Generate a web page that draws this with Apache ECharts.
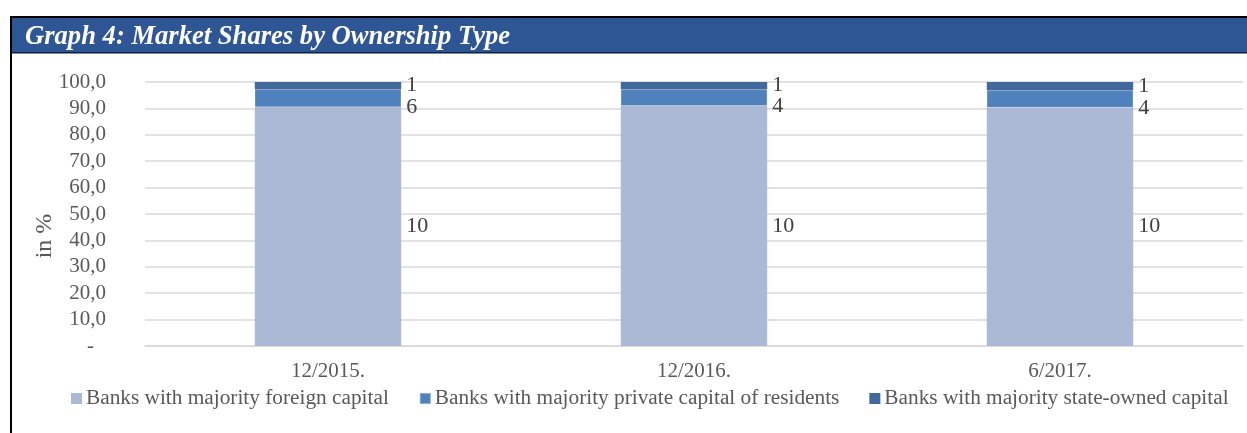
<!DOCTYPE html>
<html>
<head>
<meta charset="utf-8">
<script src="https://cdn.jsdelivr.net/npm/echarts@6/dist/echarts.min.js"></script>
<style>
html,body{margin:0;padding:0;background:#fff;}
#chart{width:1247px;height:433px;}
</style>
</head>
<body>
<div id="chart"></div>
<script>
const categories = ['12/2015.', '12/2016.', '6/2017.'];
const seriesNames = ['Banks with majority foreign capital', 'Banks with majority private capital of residents', 'Banks with majority state-owned capital'];
const foreignValues = [90.5, 91.0, 90.4];
const privateValues = [6.7, 6.2, 6.4];
const stateValues = [2.8, 2.8, 3.2];
const foreignLabels = ['10', '10', '10'];
const privateLabels = ['6', '4', '4'];
const stateLabels = ['1', '1', '1'];
const yTicks = {min: 0, max: 100, interval: 10};

const FONT = '"Liberation Serif", "Times New Roman", serif';
const chart = echarts.init(document.getElementById('chart'), null, {renderer: 'canvas'});

function mkLabel(arr, dy) {
  return {
    show: true,
    position: 'right',
    distance: 5,
    offset: [0, dy],
    fontFamily: FONT,
    fontSize: 22,
    color: '#404040',
    formatter: p => arr[p.dataIndex]
  };
}

chart.setOption({
  animation: false,
  backgroundColor: '#ffffff',
  title: {
    text: 'Graph 4: Market Shares by Ownership Type',
    left: 20,
    top: 19,
    textStyle: {fontFamily: FONT, fontStyle: 'italic', fontWeight: 'bold', fontSize: 26.6, color: '#ffffff'}
  },
  graphic: [
    {type: 'rect', shape: {x: 10, y: 16, width: 1237, height: 37}, style: {fill: '#2E5594'}, z: -1},
    {type: 'rect', shape: {x: 10, y: 16, width: 1237, height: 2}, style: {fill: '#000000'}, z: 0},
    {type: 'rect', shape: {x: 10, y: 52, width: 1237, height: 1.5}, style: {fill: '#0b1f45'}, z: 0},
    {type: 'rect', shape: {x: 10, y: 16, width: 2, height: 417}, style: {fill: '#000000'}, z: 0},
    {type: 'text', x: 45, y: 236, rotation: Math.PI / 2,
     style: {text: 'in %', fontFamily: FONT, fontSize: 24, fill: '#595959', align: 'center', verticalAlign: 'middle'}}
  ],
  legend: {
    left: 71,
    top: 388,
    padding: 0,
    icon: 'rect',
    itemWidth: 11,
    itemHeight: 11,
    itemGap: 30,
    textStyle: {fontFamily: FONT, fontSize: 21.3, color: '#595959', padding: [0, 0, 0, -1]},
    data: seriesNames
  },
  grid: {left: 145, right: 4, top: 82, bottom: 87},
  xAxis: {
    type: 'category',
    data: categories,
    axisLine: {show: true, lineStyle: {color: '#d9d9d9', width: 1.5}},
    axisTick: {show: false},
    axisLabel: {fontFamily: FONT, fontSize: 21, color: '#595959', margin: 15}
  },
  yAxis: {
    type: 'value',
    min: yTicks.min,
    max: yTicks.max,
    interval: yTicks.interval,
    axisLine: {show: false},
    axisTick: {show: false},
    splitLine: {lineStyle: {color: '#d9d9d9', width: 1.5}},
    axisLabel: {
      fontFamily: FONT, fontSize: 21, color: '#595959', margin: 39,
      formatter: v => v === 0 ? '{d|-}' : v.toFixed(1).replace('.', ','),
      rich: {d: {fontFamily: FONT, fontSize: 21, color: '#595959', padding: [0, 12, 0, 0]}}
    }
  },
  series: [
    {name: seriesNames[0], type: 'bar', stack: 's', barWidth: '40%', data: foreignValues,
     itemStyle: {color: '#abb9d6'}, label: mkLabel(foreignLabels, 0)},
    {name: seriesNames[1], type: 'bar', stack: 's', barWidth: '40%', data: privateValues,
     itemStyle: {color: '#4f81bd', borderColor: 'rgba(255,255,255,0.35)', borderWidth: 0.5}, label: mkLabel(privateLabels, 9)},
    {name: seriesNames[2], type: 'bar', stack: 's', barWidth: '40%', data: stateValues,
     itemStyle: {color: '#41699b'}, label: mkLabel(stateLabels, 0)}
  ]
});
</script>
</body>
</html>
